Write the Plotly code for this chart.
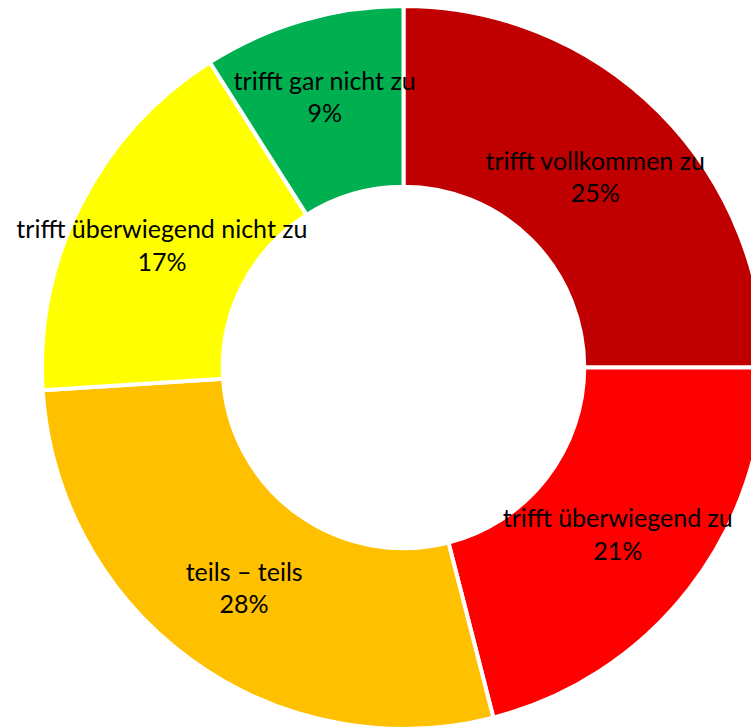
import plotly.graph_objects as go

categories = ["trifft vollkommen zu", "trifft überwiegend zu", "teils – teils",
              "trifft überwiegend nicht zu", "trifft gar nicht zu"]
values = [25, 21, 28, 17, 9]
colors = ["#C00000", "#FF0000", "#FFC000", "#FFFF00", "#00B050"]

fig = go.Figure(go.Pie(
    labels=categories,
    values=values,
    hole=0.5,
    sort=False,
    direction="clockwise",
    rotation=0,
    marker=dict(colors=colors, line=dict(color="white", width=4)),
    texttemplate="%{label}<br>%{percent:.0%}",
    textposition="inside",
    insidetextorientation="horizontal",
    textfont=dict(family="Lato", size=25, color="black"),
    showlegend=False,
    hoverinfo="label+percent",
))

fig.update_layout(
    width=765, height=729,
    margin=dict(l=42, r=0, t=6, b=0),
    paper_bgcolor="white",
    plot_bgcolor="white",
    uniformtext=dict(minsize=25, mode="show"),
)

fig.write_html(
    "out.html",
    config={"displayModeBar": False},
    post_script="document.body.style.margin='0';document.body.style.overflow='hidden';document.documentElement.style.overflow='hidden';",
)
